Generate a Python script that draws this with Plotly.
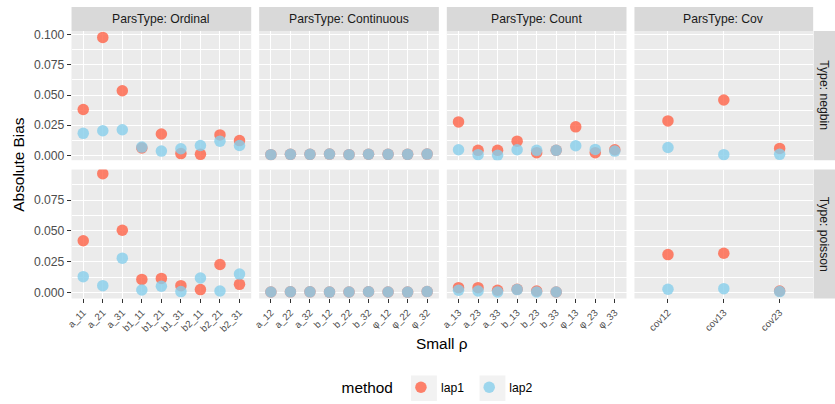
import plotly.graph_objects as go

# ---------------- data ----------------
methods = ["lap1", "lap2"]
row_types = ["negbin", "poisson"]
col_types = ["Ordinal", "Continuous", "Count", "Cov"]

ordinal_cats = ["a_11", "a_21", "a_31", "b1_11", "b1_21", "b1_31", "b2_11", "b2_21", "b2_31"]
continuous_cats = ["a_12", "a_22", "a_32", "b_12", "b_22", "b_32", "φ_12", "φ_22", "φ_32"]
count_cats = ["a_13", "a_23", "a_33", "b_13", "b_23", "b_33", "φ_13", "φ_23", "φ_33"]
cov_cats = ["cov12", "cov13", "cov23"]

ordinal_negbin_lap1 = [0.0380, 0.0978, 0.0535, 0.0060, 0.0177, 0.0014, 0.0008, 0.0169, 0.0122]
ordinal_negbin_lap2 = [0.0182, 0.0204, 0.0212, 0.0068, 0.0035, 0.0054, 0.0081, 0.0117, 0.0081]
ordinal_poisson_lap1 = [0.0420, 0.0965, 0.0506, 0.0107, 0.0115, 0.0056, 0.0024, 0.0228, 0.0067]
ordinal_poisson_lap2 = [0.0129, 0.0056, 0.0279, 0.0021, 0.0051, 0.0008, 0.0118, 0.0013, 0.0150]

continuous_negbin_lap1 = [0.0005, 0.0008, 0.0008, 0.0010, 0.0005, 0.0009, 0.0008, 0.0008, 0.0010]
continuous_negbin_lap2 = [0.0005, 0.0008, 0.0008, 0.0010, 0.0005, 0.0009, 0.0008, 0.0008, 0.0010]
continuous_poisson_lap1 = [0.0005, 0.0006, 0.0006, 0.0004, 0.0005, 0.0007, 0.0005, 0.0004, 0.0008]
continuous_poisson_lap2 = [0.0005, 0.0006, 0.0006, 0.0004, 0.0005, 0.0007, 0.0005, 0.0004, 0.0008]

count_negbin_lap1 = [0.0277, 0.0041, 0.0041, 0.0117, 0.0022, 0.0041, 0.0236, 0.0022, 0.0046]
count_negbin_lap2 = [0.0046, 0.0005, 0.0000, 0.0046, 0.0041, 0.0041, 0.0079, 0.0049, 0.0035]
count_poisson_lap1 = [0.0040, 0.0040, 0.0019, 0.0027, 0.0013, 0.0005, None, None, None]
count_poisson_lap2 = [0.0019, 0.0013, 0.0005, 0.0024, 0.0005, 0.0005, None, None, None]

cov_negbin_lap1 = [0.0285, 0.0459, 0.0057]
cov_negbin_lap2 = [0.0065, 0.0005, 0.0008]
cov_poisson_lap1 = [0.0308, 0.0319, 0.0013]
cov_poisson_lap2 = [0.0027, 0.0032, 0.0008]

panels = [
    [(ordinal_cats, ordinal_negbin_lap1, ordinal_negbin_lap2),
     (continuous_cats, continuous_negbin_lap1, continuous_negbin_lap2),
     (count_cats, count_negbin_lap1, count_negbin_lap2),
     (cov_cats, cov_negbin_lap1, cov_negbin_lap2)],
    [(ordinal_cats, ordinal_poisson_lap1, ordinal_poisson_lap2),
     (continuous_cats, continuous_poisson_lap1, continuous_poisson_lap2),
     (count_cats, count_poisson_lap1, count_poisson_lap2),
     (cov_cats, cov_poisson_lap1, cov_poisson_lap2)],
]

# ---------------- layout geometry ----------------
W, H = 835, 404
col_px = [(66, 247), (255, 436), (444, 625), (633, 813)]
row_px = [(28.5, 160), (169.5, 300.7)]
y_ranges = [[-0.0041, 0.1031], [-0.0048, 0.0998]]
colors = {"lap1": "tomato", "lap2": "skyblue"}
FONT = "Liberation Sans, Arial, Helvetica, sans-serif"
F_TICK, F_STRIP, F_TITLE, F_XTICK = 12.2, 12.2, 15.4, 9.7


def px_x(v):
    return v / W


def px_y(v):
    return 1 - v / H


fig = go.Figure()
layout = dict(
    width=W, height=H,
    margin=dict(l=0, r=0, t=0, b=0),
    paper_bgcolor="white",
    plot_bgcolor="#EBEBEB",
    font=dict(family=FONT, color="#000000"),
    shapes=[], annotations=[],
)

for r in range(2):
    for c in range(4):
        idx = r * 4 + c + 1
        sfx = "" if idx == 1 else str(idx)
        cats, v1, v2 = panels[r][c]
        for m, vals in zip(methods, (v1, v2)):
            fig.add_trace(go.Scatter(
                x=cats, y=vals, mode="markers", name=m,
                legendgroup=m, showlegend=(idx == 1),
                marker=dict(color=colors[m], size=11.5, opacity=0.8, line=dict(width=0)),
                xaxis="x" + sfx, yaxis="y" + sfx,
                hovertemplate="%{x}: %{y:.4f}<extra>" + m + "</extra>",
            ))
        bottom = (r == 1)
        left = (c == 0)
        layout["xaxis" + sfx] = dict(
            domain=[px_x(col_px[c][0]), px_x(col_px[c][1])],
            anchor="y" + sfx,
            type="category", categoryorder="array", categoryarray=cats,
            range=[-0.6, len(cats) - 0.4],
            showgrid=True, gridcolor="white", gridwidth=1.1,
            zeroline=False, showline=False,
            ticks="outside" if bottom else "", ticklen=3.7, tickwidth=1.07, tickcolor="#333333",
            showticklabels=bottom, tickangle=-45,
            tickfont=dict(size=F_XTICK, color="#4D4D4D", family=FONT),
        )
        layout["yaxis" + sfx] = dict(
            domain=[px_y(row_px[r][1]), px_y(row_px[r][0])],
            anchor="x" + sfx,
            range=y_ranges[r], tick0=0, dtick=0.025, tickformat=".3f",
            showgrid=True, gridcolor="white", gridwidth=1.1,
            minor=dict(dtick=0.0125, tick0=0, showgrid=True, gridcolor="white", gridwidth=0.55, ticks=""),
            zeroline=False, showline=False,
            ticks="outside" if left else "", ticklen=3.7, tickwidth=1.07, tickcolor="#333333",
            showticklabels=left,
            tickfont=dict(size=F_TICK, color="#4D4D4D", family=FONT),
        )

# strips: top (column facets)
for c in range(4):
    x0, x1 = col_px[c]
    layout["shapes"].append(dict(type="rect", xref="paper", yref="paper",
                                 x0=px_x(x0), x1=px_x(x1), y0=px_y(28.5), y1=px_y(4),
                                 fillcolor="#D9D9D9", line=dict(width=0), layer="below"))
    layout["annotations"].append(dict(text="ParsType: " + col_types[c], xref="paper", yref="paper",
                                      x=px_x((x0 + x1) / 2), y=px_y(16.3), showarrow=False,
                                      xanchor="center", yanchor="middle",
                                      font=dict(size=F_STRIP, color="#1A1A1A", family=FONT)))
# strips: right (row facets)
for r in range(2):
    y0, y1 = row_px[r]
    layout["shapes"].append(dict(type="rect", xref="paper", yref="paper",
                                 x0=px_x(813.5), x1=px_x(835), y0=px_y(y1), y1=px_y(y0),
                                 fillcolor="#D9D9D9", line=dict(width=0), layer="below"))
    layout["annotations"].append(dict(text="Type: " + row_types[r], xref="paper", yref="paper",
                                      x=px_x(824.3), y=px_y((y0 + y1) / 2), showarrow=False,
                                      textangle=90, xanchor="center", yanchor="middle",
                                      font=dict(size=F_STRIP, color="#1A1A1A", family=FONT)))

# axis titles
layout["annotations"].append(dict(text="Absolute Bias", xref="paper", yref="paper",
                                  x=px_x(13), y=px_y((row_px[0][0] + row_px[1][1]) / 2),
                                  showarrow=False, textangle=-90, xanchor="center", yanchor="middle",
                                  font=dict(size=F_TITLE, color="#000000", family=FONT)))
layout["annotations"].append(dict(text="Small ρ", xref="paper", yref="paper",
                                  x=px_x((col_px[0][0] + col_px[3][1]) / 2), y=px_y(346),
                                  showarrow=False, xanchor="center", yanchor="middle",
                                  font=dict(size=F_TITLE, color="#000000", family=FONT)))

# legend key backgrounds
for kx in (408, 477):
    layout["shapes"].append(dict(type="rect", xref="paper", yref="paper",
                                 x0=px_x(kx), x1=px_x(kx + 26), y0=px_y(405), y1=px_y(379),
                                 fillcolor="#F2F2F2", line=dict(width=0), layer="below"))

layout["legend"] = dict(
    orientation="h", x=px_x(336), xanchor="left", y=px_y(392), yanchor="middle",
    title=dict(text="method", font=dict(size=F_TITLE, color="#000000", family=FONT), side="left"),
    font=dict(size=F_TICK, color="#000000", family=FONT),
    bgcolor="rgba(0,0,0,0)", itemwidth=30, tracegroupgap=0,
)

fig.update_layout(**layout)
fig.write_html("out.html")
